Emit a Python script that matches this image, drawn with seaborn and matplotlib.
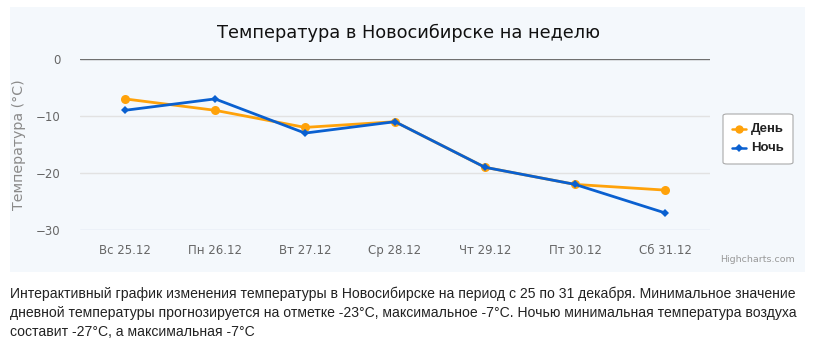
import pandas as pd
import seaborn as sns
import matplotlib.pyplot as plt
from matplotlib.patches import FancyBboxPatch, Rectangle

# data
days = ['Вс 25.12', 'Пн 26.12', 'Вт 27.12', 'Ср 28.12',
        'Чт 29.12', 'Пт 30.12', 'Сб 31.12']
day_temp = [-7, -9, -12, -11, -19, -22, -23]
night_temp = [-9, -7, -13, -11, -19, -22, -27]

df = pd.DataFrame({
    'day': days * 2,
    'x': list(range(len(days))) * 2,
    'temp': day_temp + night_temp,
    'series': ['День'] * len(days) + ['Ночь'] * len(days),
})

sns.set_theme(style='white')
plt.rcParams['font.family'] = ['DejaVu Sans']

fig = plt.figure(figsize=(8.14, 3.61), dpi=100)
W, H = 814, 361

# chart panel background
fig.patches.append(Rectangle((10 / W, 1 - 272 / H), 795 / W, 265 / H,
                             transform=fig.transFigure, facecolor='#f4f8fc',
                             edgecolor='none', zorder=-5))

ax = fig.add_axes([80 / W, 1 - 230 / H, 630 / W, 171 / H])
ax.set_facecolor('none')

palette = {'День': '#ffa20a', 'Ночь': '#0a60d0'}
markers = {'День': 'o', 'Ночь': 'D'}
sns.lineplot(data=df[df.series == 'День'], x='x', y='temp', color=palette['День'],
             marker='o', linewidth=2, markersize=6.5, markeredgewidth=0, ax=ax)
sns.lineplot(data=df[df.series == 'Ночь'], x='x', y='temp', color=palette['Ночь'],
             marker='D', linewidth=2, markersize=4.5, markeredgewidth=0, ax=ax)

ax.set_xlim(-0.5, len(days) - 0.5)
ax.set_ylim(-30, 0)
ax.set_xticks(range(len(days)))
ax.set_xticklabels(days, fontsize=8.5, color='#666666')
ax.set_yticks([0, -10, -20, -30])
ax.set_yticklabels(['0', '−10', '−20', '−30'], fontsize=8.5, color='#666666')
ax.tick_params(axis='x', length=0, pad=10)
ax.tick_params(axis='y', length=0, pad=14)
for s in ax.spines.values():
    s.set_visible(False)
for yv in [-10, -20]:
    ax.axhline(yv, color='#e2e2e2', linewidth=1, zorder=0)
ax.axhline(0, color='#707070', linewidth=1, zorder=0)
ax.axhline(-30, color='#ccd6eb', linewidth=1, zorder=0)
ax.set_xlabel('')
ax.set_ylabel('Температура (°C)', fontsize=10.2, color='#8a8a8a', labelpad=7)

fig.text(408 / W, 1 - 33 / H, 'Температура в Новосибирске на неделю',
         ha='center', va='center', fontsize=12.8, color='#111111')

# legend box
fig.patches.append(FancyBboxPatch((723 / W, 1 - 164 / H), 70 / W, 50 / H,
                                  boxstyle='round,pad=0,rounding_size=0.005',
                                  transform=fig.transFigure, facecolor='white',
                                  edgecolor='#aaaaaa', linewidth=0.8, zorder=1))
lax = fig.add_axes([723 / W, 1 - 164 / H, 70 / W, 50 / H], zorder=2)
lax.set_xlim(0, 70)
lax.set_ylim(50, 0)
lax.axis('off')
for i, name in enumerate(['День', 'Ночь']):
    yy = 15 + i * 19
    lax.plot([9, 23], [yy, yy], color=palette[name], linewidth=1.8)
    lax.plot([16], [yy], marker=markers[name], color=palette[name],
             markersize=6 if name == 'День' else 4.2, markeredgewidth=0)
    lax.text(28, yy, name, va='center', ha='left', fontsize=9.5,
             fontweight='semibold', color='#222222',
             family=['Liberation Sans', 'DejaVu Sans'])

fig.text(795 / W, 1 - 259 / H, 'Highcharts.com', ha='right', va='center',
         fontsize=6.8, color='#999999')

caption = ('Интерактивный график изменения температуры в Новосибирске на период с 25 по 31 декабря. Минимальное значение\n'
           'дневной температуры прогнозируется на отметке -23°C, максимальное -7°C. Ночью минимальная температура воздуха\n'
           'составит -27°C, а максимальная -7°C')
fig.text(10 / W, 1 - 287 / H, caption, ha='left', va='top', fontsize=10.1,
         color='#222222', linespacing=1.45,
         family=['Liberation Sans', 'DejaVu Sans'])

fig.savefig('out.png', dpi=100)
